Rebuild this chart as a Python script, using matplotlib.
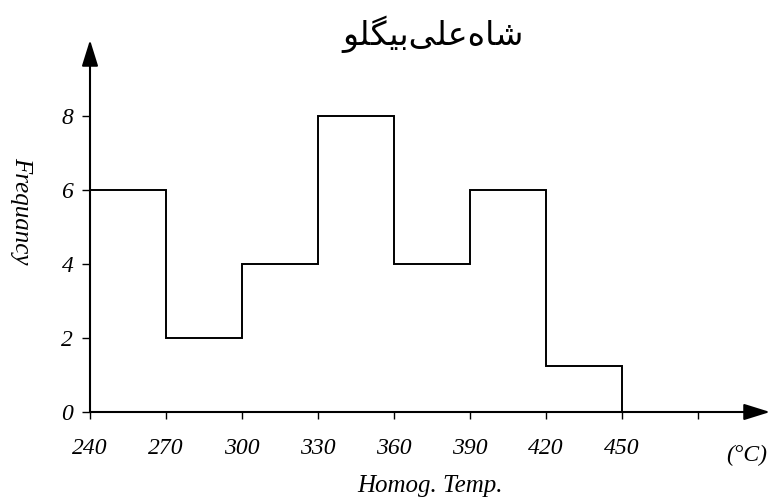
import matplotlib
matplotlib.use("Agg")
import matplotlib.pyplot as plt

# Histogram of homogenization temperatures (bin edges in °C, counts per bin)
bin_edges = [240, 270, 300, 330, 360, 390, 420, 450]
frequency = [6, 2, 4, 8, 4, 6, 1.25]
x_ticks = [240, 270, 300, 330, 360, 390, 420, 450, 480]
x_tick_labels = ["240", "270", "300", "330", "360", "390", "420", "450", ""]
y_ticks = [0, 2, 4, 6, 8]
y_tick_labels = ["0", "2", "4", "6", "8"]

title_logical = "شاه‌علی‌بیگلو"
# matplotlib has no Arabic shaping, so the title is written with presentation
# forms in visual (left-to-right) order
title_visual = "\uFEEE\uFEE0\uFB95\uFEF4\uFE91\uFEF0\uFEE0\uFECB\uFEE9\uFE8E\uFEB7"

W, H = 771, 497
fig = plt.figure(figsize=(W / 100, H / 100), dpi=100)
x0, x1 = 90, 770      # pixel extent of the x axis
y0, y1 = 412, 40      # pixel extent of the y axis (from top)
ax = fig.add_axes([x0 / W, (H - y0) / H, (x1 - x0) / W, (y0 - y1) / H])
ax.set_facecolor("none")

xmax = 240 + (x1 - x0) * 30 / 76
ymax = (y0 - y1) / 37
ax.set_xlim(240, xmax)
ax.set_ylim(0, ymax)

ax.stairs(frequency, bin_edges, baseline=0, color="black", lw=1.4,
          fill=False, clip_on=False)

for s in ax.spines.values():
    s.set_visible(False)

arrow = dict(arrowstyle="-|>,head_length=1.6,head_width=0.5", color="black",
             lw=1.5, shrinkA=0, shrinkB=0)
ax.annotate("", xy=(xmax, 0), xytext=(240, 0), arrowprops=arrow,
            annotation_clip=False)
ax.annotate("", xy=(240, ymax), xytext=(240, 0), arrowprops=arrow,
            annotation_clip=False)

tick_font = dict(family="Liberation Serif", style="italic", size=17)
ax.set_xticks(x_ticks)
ax.set_xticklabels(x_tick_labels, fontdict=tick_font)
ax.set_yticks(y_ticks)
ax.set_yticklabels(y_tick_labels, fontdict=tick_font)
ax.tick_params(axis="x", direction="out", length=5, width=1, pad=14)
ax.tick_params(axis="y", direction="out", length=6, width=1, pad=6)

ax.text(491, -0.88, "(°C)", ha="left", va="top", fontdict=tick_font)

ax.set_xlabel("Homog. Temp.", fontdict=dict(family="Liberation Serif",
              style="italic", size=18), labelpad=11)
fig.text(21 / W, 1 - 211 / H, "Frequancy", rotation=-90, ha="center",
         va="center", family="Liberation Serif", style="italic", size=18)

fig.text(433 / W, 1 - 34 / H, title_visual, ha="center", va="center",
         family=["DejaVu Sans"], size=24)

fig.savefig("out.png", dpi=100)
